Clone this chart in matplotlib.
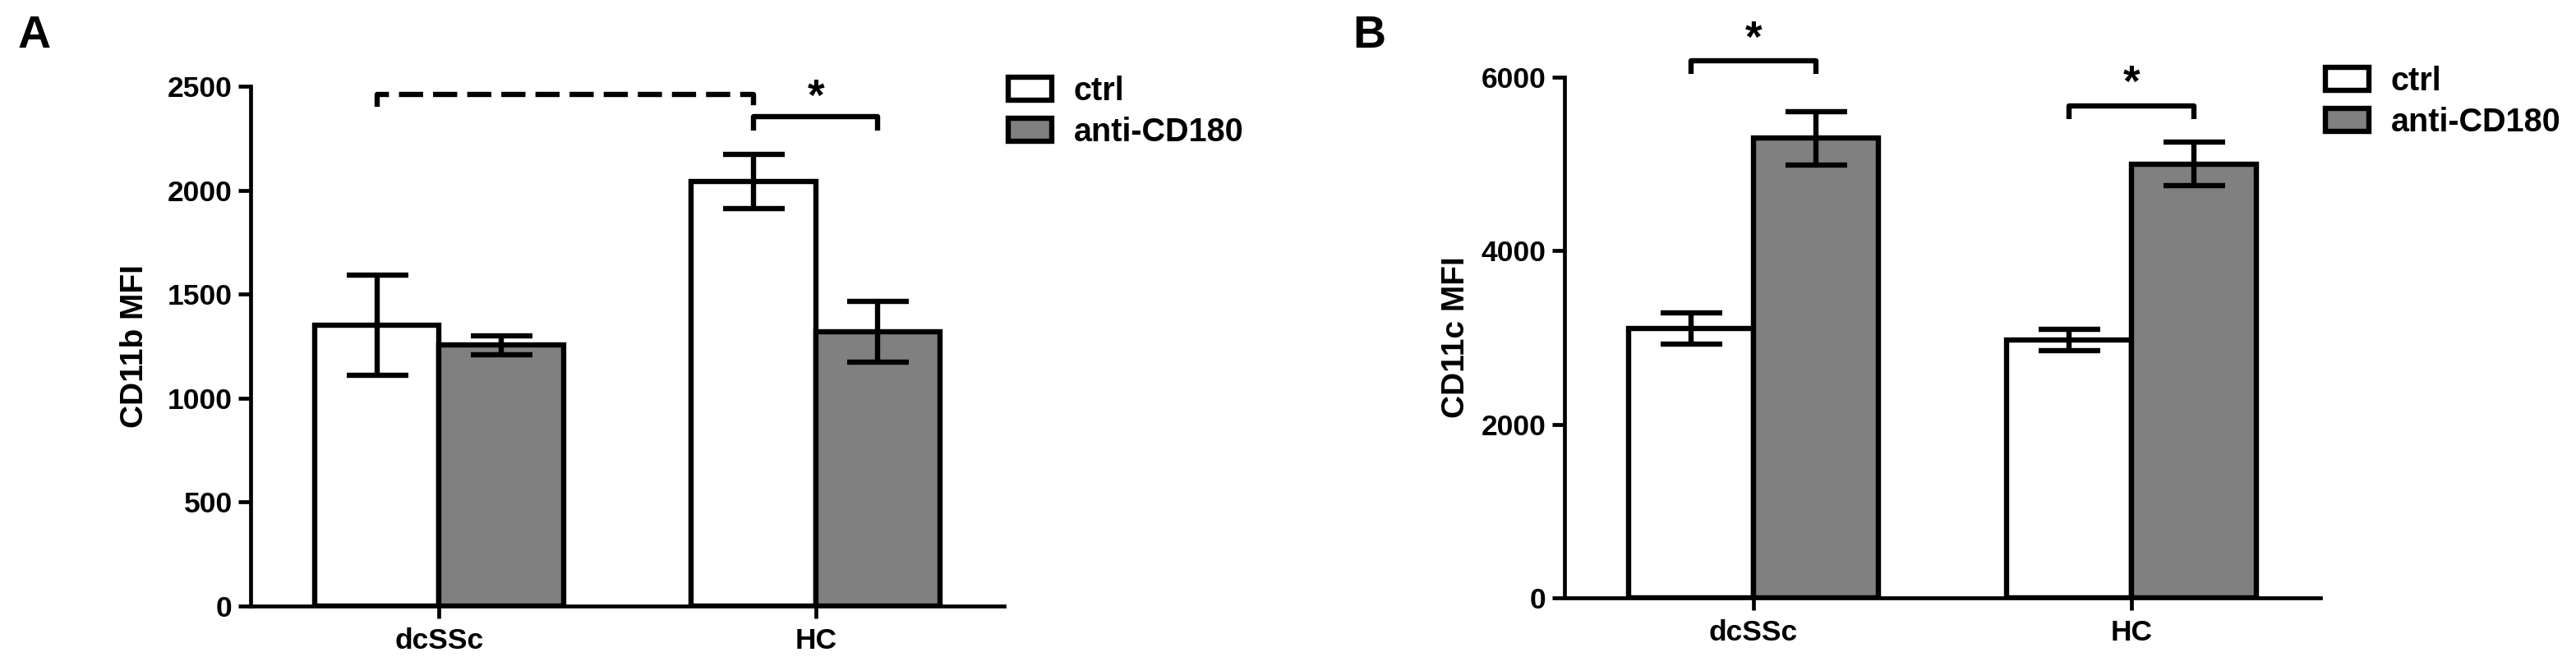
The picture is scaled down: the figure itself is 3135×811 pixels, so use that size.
import matplotlib
matplotlib.use("Agg")
import matplotlib.pyplot as plt

plt.rcParams["font.family"] = ["Liberation Sans", "DejaVu Sans"]
plt.rcParams["font.weight"] = "bold"
plt.rcParams["axes.labelweight"] = "bold"

groups = ["dcSSc", "HC"]
series = ["ctrl", "anti-CD180"]
colors = ["white", "#808080"]

# panel A: CD11b MFI
a_ctrl = [1350, 2042]
a_ctrl_err = [242, 132]
a_anti = [1254, 1320]
a_anti_err = [45, 147]
a_ticks = [0, 500, 1000, 1500, 2000, 2500]

# panel B: CD11c MFI
b_ctrl = [3104, 2976]
b_ctrl_err = [177, 123]
b_anti = [5297, 5000]
b_anti_err = [310, 250]
b_ticks = [0, 2000, 4000, 6000]

W, H, DPI = 3135, 811, 100
BW = 0.33
LW = 4.6


def draw_panel(ax, ctrl, ctrl_err, anti, anti_err, ticks, ylabel, labx):
    xs = list(range(len(groups)))
    for vals, errs, col, lab, off in [(ctrl, ctrl_err, colors[0], series[0], -BW / 2),
                                      (anti, anti_err, colors[1], series[1], BW / 2)]:
        pos = [x + off for x in xs]
        ax.bar(pos, vals, width=BW, color=col, edgecolor="black", linewidth=LW,
               label=lab, zorder=2)
        ax.errorbar(pos, vals, yerr=errs, fmt="none", ecolor="black",
                    elinewidth=LW, capsize=27, capthick=LW, zorder=3)
    ax.set_xlim(-0.5, 1.5)
    ax.set_ylim(ticks[0], ticks[-1])
    ax.set_yticks(ticks)
    ax.set_xticks(xs)
    ax.set_xticklabels(groups, fontsize=25.5)
    ax.tick_params(axis="y", labelsize=25.5, length=11, width=3.4, pad=5)
    ax.tick_params(axis="x", length=11, width=3.4, pad=8)
    for s in ["top", "right"]:
        ax.spines[s].set_visible(False)
    for s in ["left", "bottom"]:
        ax.spines[s].set_linewidth(3.4)
    ax.set_ylabel(ylabel, fontsize=28)
    ax.yaxis.set_label_coords(labx, 0.5)


def bracket(ax, x1, x2, ylo, yhi, **kw):
    ax.plot([x1, x1, x2, x2], [ylo, yhi, yhi, ylo], color="black", lw=LW,
            clip_on=False, solid_capstyle="butt", zorder=4, **kw)


def star(ax, x, y):
    ax.text(x, y, "*", ha="center", va="center", fontsize=38, clip_on=False)


fig = plt.figure(figsize=(W / DPI, H / DPI), dpi=DPI)
axA = fig.add_axes([305 / W, 1 - 738 / H, 917 / W, 633 / H])
axB = fig.add_axes([1904 / W, 1 - 728 / H, 920 / W, 634 / H])

draw_panel(axA, a_ctrl, a_ctrl_err, a_anti, a_anti_err, a_ticks, "CD11b MFI", -0.134)
draw_panel(axB, b_ctrl, b_ctrl_err, b_anti, b_anti_err, b_ticks, "CD11c MFI", -0.124)

c0, a0, c1, a1 = -BW / 2, BW / 2, 1 - BW / 2, 1 + BW / 2
bracket(axA, c0, c1, 2400, 2461, linestyle=(0, (4.6, 1.9)))
bracket(axA, c1, a1, 2285, 2352)
star(axA, 1.0, 2440)

bracket(axB, c0, a0, 6035, 6193)
star(axB, 0.0, 6430)
bracket(axB, c1, a1, 5519, 5666)
star(axB, 1.0, 5915)

for ax, lx, ly in [(axA, 1227, 92), (axB, 2830, 80)]:
    ax.legend(loc="upper left", bbox_to_anchor=(lx / W, 1 - ly / H),
              bbox_transform=fig.transFigure, frameon=False, fontsize=28.5,
              borderpad=0, borderaxespad=0, handlelength=1.33, handleheight=0.7,
              handletextpad=0.68, labelspacing=0.3)

fig.text(22 / W, 1 - 18 / H, "A", fontsize=40, ha="left", va="top")
fig.text(1646 / W, 1 - 18 / H, "B", fontsize=40, ha="left", va="top")

fig.savefig("out.png", dpi=DPI, facecolor="white")
